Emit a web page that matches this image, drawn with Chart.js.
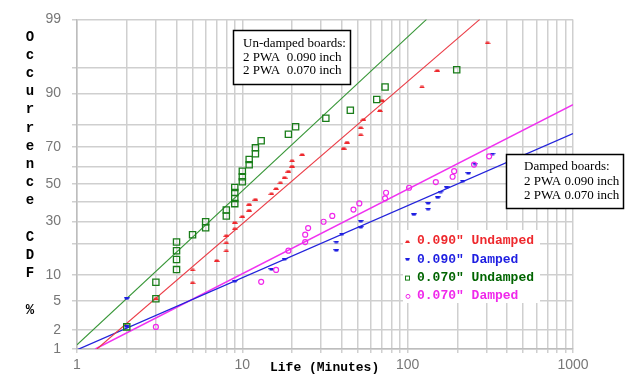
<!DOCTYPE html>
<html>
<head>
<meta charset="utf-8">
<script src="https://cdn.jsdelivr.net/npm/chart.js@4/dist/chart.umd.min.js"></script>
<style>
html, body { margin: 0; padding: 0; background: #fff; }
</style>
</head>
<body>
<canvas id="myChart" width="628" height="385"></canvas>
<script>
// life (minutes) and occurrence CDF (%)
const und090Life = [3, 5, 5, 7, 8, 8, 8, 9, 9, 10, 11, 11, 12, 15, 16, 17, 18, 19, 20, 20, 23, 41, 43, 52, 52, 54, 68, 70, 122, 151, 304];
const und090Cdf = [5.3, 8.2, 11.3, 14.1, 17.3, 20.4, 23.4, 26.5, 29.5, 32.5, 35.7, 38.9, 41.6, 44.7, 47.6, 50.8, 53.9, 57.3, 60.1, 63.0, 66.3, 69.5, 72.4, 75.7, 78.8, 82.0, 85.1, 88.2, 91.5, 94.6, 97.7];

const dam090Life = [2, 2, 9, 15, 18, 37, 37, 40, 52, 52, 109, 133, 133, 152, 158, 172, 215, 233, 256, 326];
const dam090Cdf = [2.2, 5.3, 8.5, 11.4, 14.4, 17.4, 20.7, 24.1, 27.1, 30.0, 33.3, 36.2, 39.3, 42.4, 45.6, 48.2, 51.7, 56.0, 61.2, 66.5];

const und070Life = [2, 3, 3, 4, 4, 4, 4, 5, 6, 6, 8, 8, 9, 9, 9, 9, 10, 10, 10, 11, 11, 12, 12, 13, 19, 21, 32, 45, 65, 73, 198];
const und070Cdf = [2.2, 5.3, 8.3, 11.4, 14.4, 17.4, 20.7, 23.8, 26.9, 29.8, 32.7, 35.8, 39.2, 42.0, 45.3, 48.1, 51.4, 54.2, 57.3, 60.8, 63.6, 66.6, 69.6, 73.0, 76.0, 79.1, 82.4, 85.2, 88.4, 91.5, 94.7];

const dam070Life = [3, 13, 16, 19, 24, 24, 25, 31, 35, 47, 51, 73, 74, 102, 148, 187, 191, 252, 311];
const dam070Cdf = [2.2, 8.4, 11.3, 17.4, 20.7, 23.8, 26.8, 29.8, 32.7, 36.0, 39.3, 42.1, 45.2, 48.0, 51.2, 54.2, 57.3, 60.9, 65.3];

// fitted lines, two ends each (life, cdf)
const fitUnd090Life = [1.32, 273];
const fitUnd090Cdf = [1, 99];
const fitDam090Life = [1, 1000];
const fitDam090Cdf = [0.97, 76.3];
const fitUnd070Life = [1, 130];
const fitUnd070Cdf = [1.17, 99];
const fitDam070Life = [1.29, 1000];
const fitDam070Cdf = [1, 86.9];

// axis ticks
const yGrid = [1, 2, 5, 10, 20, 30, 40, 50, 60, 70, 80, 90, 95, 99];
const yLabels = [1, 2, 5, 10, 30, 50, 70, 90, 99];
const xGrid = [1, 2, 3, 4, 5, 6, 7, 8, 9, 10, 20, 30, 40, 50, 60, 70, 80, 90,
               100, 200, 300, 400, 500, 600, 700, 800, 900, 1000];
const xLabels = [1, 10, 100, 1000];

const legendNames = ['0.090" Undamped', '0.090" Damped', '0.070" Undamped', '0.070" Damped'];

// inverse normal cdf (Acklam)
function probit(p) {
  const a = [-39.69683028665376, 220.9460984245205, -275.9285104469687, 138.3577518672690, -30.66479806614716, 2.506628277459239];
  const b = [-54.47609879822406, 161.5858368580409, -155.6989798598866, 66.80131188771972, -13.28068155288572];
  const c = [-0.007784894002430293, -0.3223964580411365, -2.400758277161838, -2.549732539343734, 4.374664141464968, 2.938163982698783];
  const d = [0.007784695709041462, 0.3224671290700398, 2.445134137142996, 3.754408661907416];
  let q, r;
  if (p < 0.02425) {
    q = Math.sqrt(-2 * Math.log(p));
    return (((((c[0]*q+c[1])*q+c[2])*q+c[3])*q+c[4])*q+c[5]) / ((((d[0]*q+d[1])*q+d[2])*q+d[3])*q+1);
  }
  if (p > 1 - 0.02425) {
    q = Math.sqrt(-2 * Math.log(1 - p));
    return -(((((c[0]*q+c[1])*q+c[2])*q+c[3])*q+c[4])*q+c[5]) / ((((d[0]*q+d[1])*q+d[2])*q+d[3])*q+1);
  }
  q = p - 0.5; r = q * q;
  return (((((a[0]*r+a[1])*r+a[2])*r+a[3])*r+a[4])*r+a[5])*q / (((((b[0]*r+b[1])*r+b[2])*r+b[3])*r+b[4])*r+1);
}
function normCdf(z) {
  const t = 1 / (1 + 0.2316419 * Math.abs(z));
  const y = 0.3989423 * Math.exp(-z * z / 2) * t * (0.3193815 + t * (-0.3565638 + t * (1.781478 + t * (-1.821256 + t * 1.330274))));
  return z > 0 ? 1 - y : y;
}

// normal probability axis, values in percent
class ProbabilityScale extends Chart.LinearScale {
  determineDataLimits() {
    this.min = this.options.min;
    this.max = this.options.max;
  }
  buildTicks() {
    return yGrid.map(v => ({ value: v }));
  }
  getPixelForValue(value) {
    const z0 = probit(this.min / 100), z1 = probit(this.max / 100);
    return this.getPixelForDecimal((probit(value / 100) - z0) / (z1 - z0));
  }
  getValueForPixel(pixel) {
    const z0 = probit(this.min / 100), z1 = probit(this.max / 100);
    return normCdf(z0 + this.getDecimalForPixel(pixel) * (z1 - z0)) * 100;
  }
}
ProbabilityScale.id = 'probability';
ProbabilityScale.defaults = {};
Chart.register(ProbabilityScale);

// small dash-like markers used for the 0.090" sets
function markImage(color, up) {
  const c = document.createElement('canvas');
  c.width = 6; c.height = 3;
  const g = c.getContext('2d');
  g.fillStyle = color;
  g.beginPath();
  if (up) { g.moveTo(0, 3); g.lineTo(1.5, 0.6); g.lineTo(4.5, 0.6); g.lineTo(6, 3); }
  else { g.moveTo(0, 0); g.lineTo(6, 0); g.lineTo(4.5, 2.4); g.lineTo(1.5, 2.4); }
  g.closePath();
  g.fill();
  return c;
}

const RED = 'rgb(238,40,45)', BLUE = 'rgb(30,30,225)', GREEN = 'rgb(25,125,25)', MAGENTA = 'rgb(240,40,235)';
const redMark = markImage(RED, true);
const blueMark = markImage(BLUE, false);

const pts = (xs, ys) => xs.map((x, i) => ({ x: x, y: ys[i] }));

const decorations = {
  id: 'decorations',
  afterDraw(chart) {
    const ctx = chart.ctx;
    ctx.save();

    // axis titles
    ctx.fillStyle = '#000';
    ctx.font = 'bold 14px "Liberation Mono", "Courier New", monospace';
    ctx.textAlign = 'center';
    ctx.textBaseline = 'middle';
    const ytitle = 'Occurrence CDF %';
    for (let i = 0; i < ytitle.length; i++) {
      ctx.fillText(ytitle[i], 30, 37 + 18.2 * i);
    }
    ctx.font = 'bold 13px "Liberation Mono", "Courier New", monospace';
    ctx.textAlign = 'left';
    ctx.fillText('Life (Minutes)', 270, 368);

    // text boxes
    const box = (x, y, w, h, lines, tx, ty, step) => {
      ctx.fillStyle = '#fff';
      ctx.fillRect(x, y, w, h);
      ctx.strokeStyle = '#000';
      ctx.lineWidth = 1.5;
      ctx.strokeRect(x, y, w, h);
      ctx.fillStyle = '#000';
      ctx.font = '13px "Liberation Serif", "Times New Roman", serif';
      ctx.textAlign = 'left';
      ctx.textBaseline = 'middle';
      lines.forEach((s, i) => ctx.fillText(s, tx, ty + step * i));
    };
    box(233.5, 30.5, 117, 54, ['Un-damped boards:', '2 PWA  0.090 inch', '2 PWA  0.070 inch'], 243, 44, 13.5);
    box(506.5, 154.5, 117, 54, ['Damped boards:', '2 PWA 0.090 inch', '2 PWA 0.070 inch'], 524, 167, 14.2);

    // legend
    ctx.fillStyle = '#fff';
    ctx.fillRect(403, 230, 137, 73);
    const colors = [RED, BLUE, 'rgb(0,100,0)', MAGENTA];
    ctx.font = 'bold 13px "Liberation Mono", "Courier New", monospace';
    ctx.textBaseline = 'middle';
    legendNames.forEach((name, i) => {
      const y = 241 + 18.3 * i;
      if (i === 0) ctx.drawImage(redMark, 405, y - 1, 5, 3);
      if (i === 1) ctx.drawImage(blueMark, 405, y - 1, 5, 3);
      if (i === 2) { ctx.strokeStyle = GREEN; ctx.lineWidth = 1; ctx.strokeRect(405.5, y - 1.5, 4, 4); }
      if (i === 3) { ctx.strokeStyle = MAGENTA; ctx.lineWidth = 1; ctx.beginPath(); ctx.arc(408, y + 0.5, 2, 0, Math.PI * 2); ctx.stroke(); }
      ctx.fillStyle = colors[i];
      ctx.fillText(name, 417, y);
    });
    ctx.restore();
  }
};

new Chart(document.getElementById('myChart'), {
  type: 'scatter',
  data: {
    datasets: [
      { label: legendNames[2], data: pts(und070Life, und070Cdf), pointStyle: 'rect', pointRadius: 4.4,
        borderColor: GREEN, backgroundColor: 'rgba(0,0,0,0)', borderWidth: 1.3 },
      { label: legendNames[3], data: pts(dam070Life, dam070Cdf), pointStyle: 'circle', pointRadius: 2.5,
        borderColor: MAGENTA, backgroundColor: 'rgba(0,0,0,0)', borderWidth: 1.2 },
      { label: legendNames[0], data: pts(und090Life, und090Cdf), pointStyle: redMark, pointRadius: 3,
        borderColor: RED, backgroundColor: RED },
      { label: legendNames[1], data: pts(dam090Life, dam090Cdf), pointStyle: blueMark, pointRadius: 3,
        borderColor: BLUE, backgroundColor: BLUE },
      { label: 'fit 0.070 undamped', data: pts(fitUnd070Life, fitUnd070Cdf), showLine: true, pointRadius: 0,
        borderColor: 'rgb(55,150,55)', borderWidth: 1.1 },
      { label: 'fit 0.090 undamped', data: pts(fitUnd090Life, fitUnd090Cdf), showLine: true, pointRadius: 0,
        borderColor: 'rgb(235,60,70)', borderWidth: 1.1 },
      { label: 'fit 0.090 damped', data: pts(fitDam090Life, fitDam090Cdf), showLine: true, pointRadius: 0,
        borderColor: 'rgb(35,35,220)', borderWidth: 1.3 },
      { label: 'fit 0.070 damped', data: pts(fitDam070Life, fitDam070Cdf), showLine: true, pointRadius: 0,
        borderColor: 'rgb(240,50,240)', borderWidth: 1.5 }
    ]
  },
  options: {
    responsive: false,
    devicePixelRatio: 1,
    animation: false,
    events: [],
    layout: { padding: { left: 0, top: 17, right: 55, bottom: 0 } },
    plugins: { legend: { display: false }, tooltip: { enabled: false } },
    scales: {
      x: {
        type: 'logarithmic',
        min: 1,
        max: 1000,
        afterBuildTicks: s => { s.ticks = xGrid.map(v => ({ value: v })); },
        afterFit: s => { s.height = 36; },
        grid: { color: '#cfcfcf', lineWidth: 1.5, tickLength: 4 },
        border: { color: '#bdbdbd', width: 1.5 },
        ticks: {
          autoSkip: false, maxRotation: 0, padding: 4, color: '#777',
          font: { family: '"Liberation Sans", Arial, sans-serif', size: 14 },
          callback: v => xLabels.includes(v) ? String(v) : ''
        }
      },
      y: {
        type: 'probability',
        min: 1,
        max: 99,
        afterFit: s => { s.width = 77; },
        grid: { color: '#cfcfcf', lineWidth: 1.5, tickLength: 5 },
        border: { color: '#bdbdbd', width: 1.5 },
        ticks: {
          autoSkip: false, padding: 11, color: '#777',
          font: { family: '"Liberation Sans", Arial, sans-serif', size: 14 },
          callback: v => yLabels.includes(v) ? String(v) : ''
        }
      }
    }
  },
  plugins: [decorations]
});
</script>
</body>
</html>
